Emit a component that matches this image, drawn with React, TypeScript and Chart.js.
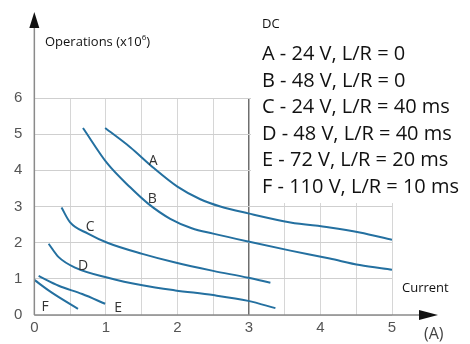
import React, { useEffect, useRef } from "react";
import { Chart, registerables } from "chart.js";

Chart.register(...registerables);

const xTicks = [0, 1, 2, 3, 4, 5];
const yTicks = [0, 1, 2, 3, 4, 5, 6];

const curveA: [number, number][] = [[0.99, 5.17], [1.34, 4.64], [1.66, 4.08], [2.0, 3.55], [2.32, 3.2], [2.6, 3.0], [2.99, 2.81], [3.58, 2.56], [4.13, 2.42], [4.55, 2.28], [5.0, 2.08]];
const curveB: [number, number][] = [[0.68, 5.17], [1.02, 4.19], [1.34, 3.53], [1.59, 3.08], [1.9, 2.66], [2.2, 2.4], [2.5, 2.25], [2.99, 2.03], [3.58, 1.78], [4.13, 1.56], [4.55, 1.38], [5.0, 1.25]];
const curveC: [number, number][] = [[0.38, 2.97], [0.5, 2.56], [0.75, 2.25], [1.03, 1.99], [1.51, 1.69], [1.97, 1.45], [2.5, 1.22], [2.99, 1.03], [3.3, 0.89]];
const curveD: [number, number][] = [[0.2, 1.97], [0.34, 1.6], [0.57, 1.31], [1.03, 1.03], [1.51, 0.82], [1.97, 0.68], [2.5, 0.55], [2.99, 0.39], [3.37, 0.19]];
const curveE: [number, number][] = [[0.06, 1.08], [0.34, 0.81], [0.67, 0.58], [0.99, 0.31]];
const curveF: [number, number][] = [[0.0, 0.97], [0.25, 0.61], [0.61, 0.17]];

const curveNames = ["A", "B", "C", "D", "E", "F"];
const curveLabelPos: [number, number][] = [[1.66, 4.25], [1.65, 3.22], [0.78, 2.42], [0.68, 1.36], [1.17, 0.19], [0.15, 0.22]];
const legendTitle = "DC";
const legendLines = [
  "A - 24 V, L/R = 0",
  "B - 48 V, L/R = 0",
  "C - 24 V, L/R = 40 ms",
  "D - 48 V, L/R = 40 ms",
  "E - 72 V, L/R = 20 ms",
  "F - 110 V, L/R = 10 ms",
];
const yAxisTitle = "Operations (x10";
const yAxisTitleSup = "6";
const xAxisTitle = "Current";
const xAxisUnit = "(A)";

const LINE = "#2470a0";
const FONT = "'Open Sans', 'Noto Sans', sans-serif";

const overlay = {
  id: "overlay",
  beforeDatasetsDraw(chart: any) {
    const { ctx } = chart;
    ctx.save();
    ctx.fillStyle = "#ffffff";
    ctx.fillRect(251, 0, 219, 203);
    ctx.restore();
  },
  afterDraw(chart: any) {
    const { ctx } = chart;
    const xs = chart.scales.x;
    const ys = chart.scales.y;
    const x0 = xs.getPixelForValue(0);
    const y0 = ys.getPixelForValue(0);
    ctx.save();
    // axes
    ctx.strokeStyle = "#8a8a8a";
    ctx.lineWidth = 1.5;
    ctx.beginPath();
    ctx.moveTo(x0, y0);
    ctx.lineTo(x0, 27);
    ctx.moveTo(x0, y0);
    ctx.lineTo(420, y0);
    ctx.stroke();
    ctx.fillStyle = "#111";
    ctx.beginPath();
    ctx.moveTo(x0, 12);
    ctx.lineTo(x0 - 5, 28);
    ctx.lineTo(x0 + 5, 28);
    ctx.closePath();
    ctx.fill();
    ctx.beginPath();
    ctx.moveTo(438, y0);
    ctx.lineTo(419, y0 - 5);
    ctx.lineTo(419, y0 + 5);
    ctx.closePath();
    ctx.fill();

    // curve letters
    ctx.fillStyle = "#333";
    ctx.font = `14px ${FONT}`;
    ctx.textAlign = "center";
    ctx.textBaseline = "middle";
    curveNames.forEach((n, i) => {
      const [vx, vy] = curveLabelPos[i];
      ctx.fillText(n, xs.getPixelForValue(vx), ys.getPixelForValue(vy));
    });

    // axis titles
    ctx.textAlign = "left";
    ctx.textBaseline = "alphabetic";
    ctx.fillStyle = "#111";
    ctx.font = `13px ${FONT}`;
    ctx.fillText(yAxisTitle, 45, 46);
    const w = ctx.measureText(yAxisTitle).width;
    ctx.font = `8px ${FONT}`;
    ctx.fillText(yAxisTitleSup, 45 + w, 40);
    const w2 = ctx.measureText(yAxisTitleSup).width;
    ctx.font = `13px ${FONT}`;
    ctx.fillText(")", 45 + w + w2, 46);
    ctx.fillText(xAxisTitle, 402, 292);
    ctx.fillStyle = "#444";
    ctx.font = `16px ${FONT}`;
    ctx.fillText(xAxisUnit, 424, 339);

    // legend
    ctx.fillStyle = "#111";
    ctx.font = `13px ${FONT}`;
    ctx.fillText(legendTitle, 262, 28);
    ctx.font = `20px ${FONT}`;
    legendLines.forEach((t, i) => {
      ctx.fillText(t, 262, 60 + i * 26.6);
    });
    ctx.restore();
  },
};

export default function App() {
  const ref = useRef<HTMLCanvasElement>(null);
  useEffect(() => {
    if (!ref.current) return;
    const mk = (pts: [number, number][]) => ({
      data: pts.map(([x, y]) => ({ x, y })),
      borderColor: LINE,
      borderWidth: 2,
      pointRadius: 0,
      cubicInterpolationMode: "monotone" as const,
      fill: false,
    });
    const chart = new Chart(ref.current, {
      type: "line",
      data: {
        datasets: [mk(curveA), mk(curveB), mk(curveC), mk(curveD), mk(curveE), mk(curveF)],
      },
      options: {
        animation: false,
        responsive: false,
        maintainAspectRatio: false,
        layout: { padding: { left: 2, right: 78, top: 98, bottom: 3 } },
        plugins: { legend: { display: false }, tooltip: { enabled: false } },
        scales: {
          x: {
            type: "linear",
            min: 0,
            max: 5,
            border: { display: false },
            grid: {
              drawTicks: false,
              color: (c: any) => (c.tick && c.tick.value === 3 ? "#6e6e6e" : "#d6d6d6"),
              lineWidth: (c: any) => (c.tick && c.tick.value === 3 ? 1.5 : 1),
            },
            ticks: {
              stepSize: 0.5,
              autoSkip: false,
              maxRotation: 0,
              padding: 4,
              color: "#555",
              font: { size: 15, family: "'Liberation Sans', Arial, sans-serif" },
              callback: (v: any) => (xTicks.includes(Number(v)) ? String(v) : ""),
            },
          },
          y: {
            type: "linear",
            min: 0,
            max: 6,
            border: { display: false },
            grid: { drawTicks: false, color: "#cfcfcf" },
            ticks: {
              stepSize: 1,
              padding: 12,
              color: "#555",
              font: { size: 15, family: "'Liberation Sans', Arial, sans-serif" },
              callback: (v: any) => (yTicks.includes(Number(v)) ? String(v) : ""),
            },
          },
        },
      },
      plugins: [overlay],
    });
    return () => chart.destroy();
  }, []);
  return (
    <div style={{ position: "fixed", left: 0, top: 0, width: 470, height: 344, background: "#fff" }}>
      <canvas ref={ref} width={470} height={344} />
    </div>
  );
}
